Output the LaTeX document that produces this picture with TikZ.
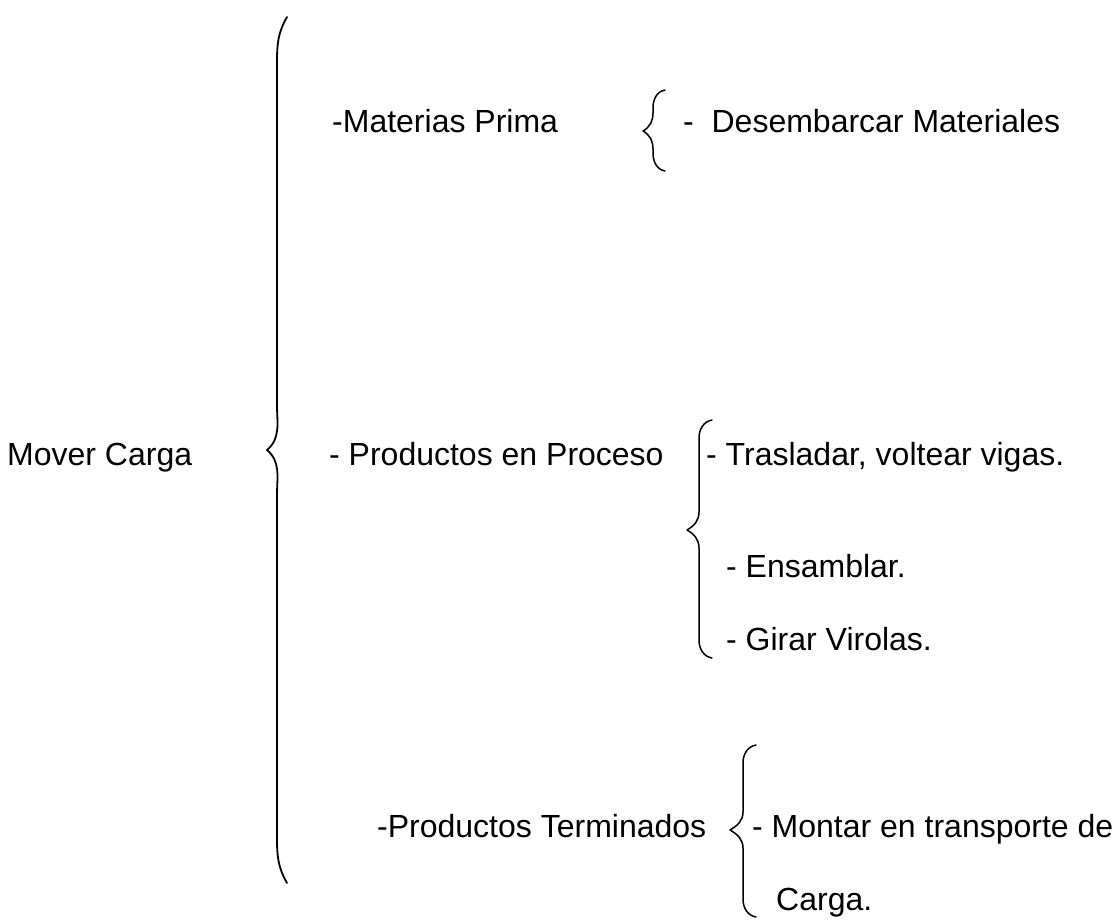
\documentclass[tikz,border=0pt]{standalone}
\usepackage{fontspec}
\setmainfont{Liberation Sans}
\newcommand\mybrace[9]{% E L T Yt Ym Yb r endangle tipangle
  \draw[bracestyle] (#1,-#4) to[out=180+#8,in=90] (#2,-#4-#7) -- (#2,-#5+#7)
    to[out=-90,in=#9] (#3,-#5) to[out=-#9,in=90] (#2,-#5-#7) -- (#2,-#6+#7)
    to[out=-90,in=180-#8] (#1,-#6);
}
\begin{document}
\begin{tikzpicture}[x=1pt,y=1pt,
  bracestyle/.style={line width=1.5pt,line cap=round,line join=round},
  txt/.style={anchor=base west,inner sep=0pt,font=\fontsize{32}{38}\selectfont}]
\useasboundingbox (0,0) rectangle (1117,-919);
% texts
\node[txt] (mover) at (7,-465) {Mover Carga};
\node[txt] (mat) at (332,-132) {-Materias Prima};
\node[txt] (des) at (683,-132) {-\ \ Desembarcar Materiales};
\node[txt] (proc) at (329,-465) {- Productos en Proceso};
\node[txt] (tras) at (706,-465) {- Trasladar, voltear vigas.};
\node[txt] (ens) at (726,-577) {- Ensamblar.};
\node[txt] (gir) at (726,-650) {- Girar Virolas.};
\node[txt] (term) at (377,-837) {-Productos Terminados};
\node[txt] (mont) at (752,-837) {- Montar en transporte de};
\node[txt] (carga) at (776,-910) {Carga.};
% braces
\begin{scope}[bracestyle/.append style={line width=1.8pt}]
\mybrace{287}{277}{267}{17}{450}{883}{45}{60}{40}
\end{scope}
\mybrace{665}{653}{643}{90}{131}{171}{18}{10}{30}
\mybrace{712}{699}{687}{420}{530}{658}{18}{10}{30}
\mybrace{756}{743}{730}{745}{830}{917}{18}{10}{30}
\end{tikzpicture}
\end{document}
